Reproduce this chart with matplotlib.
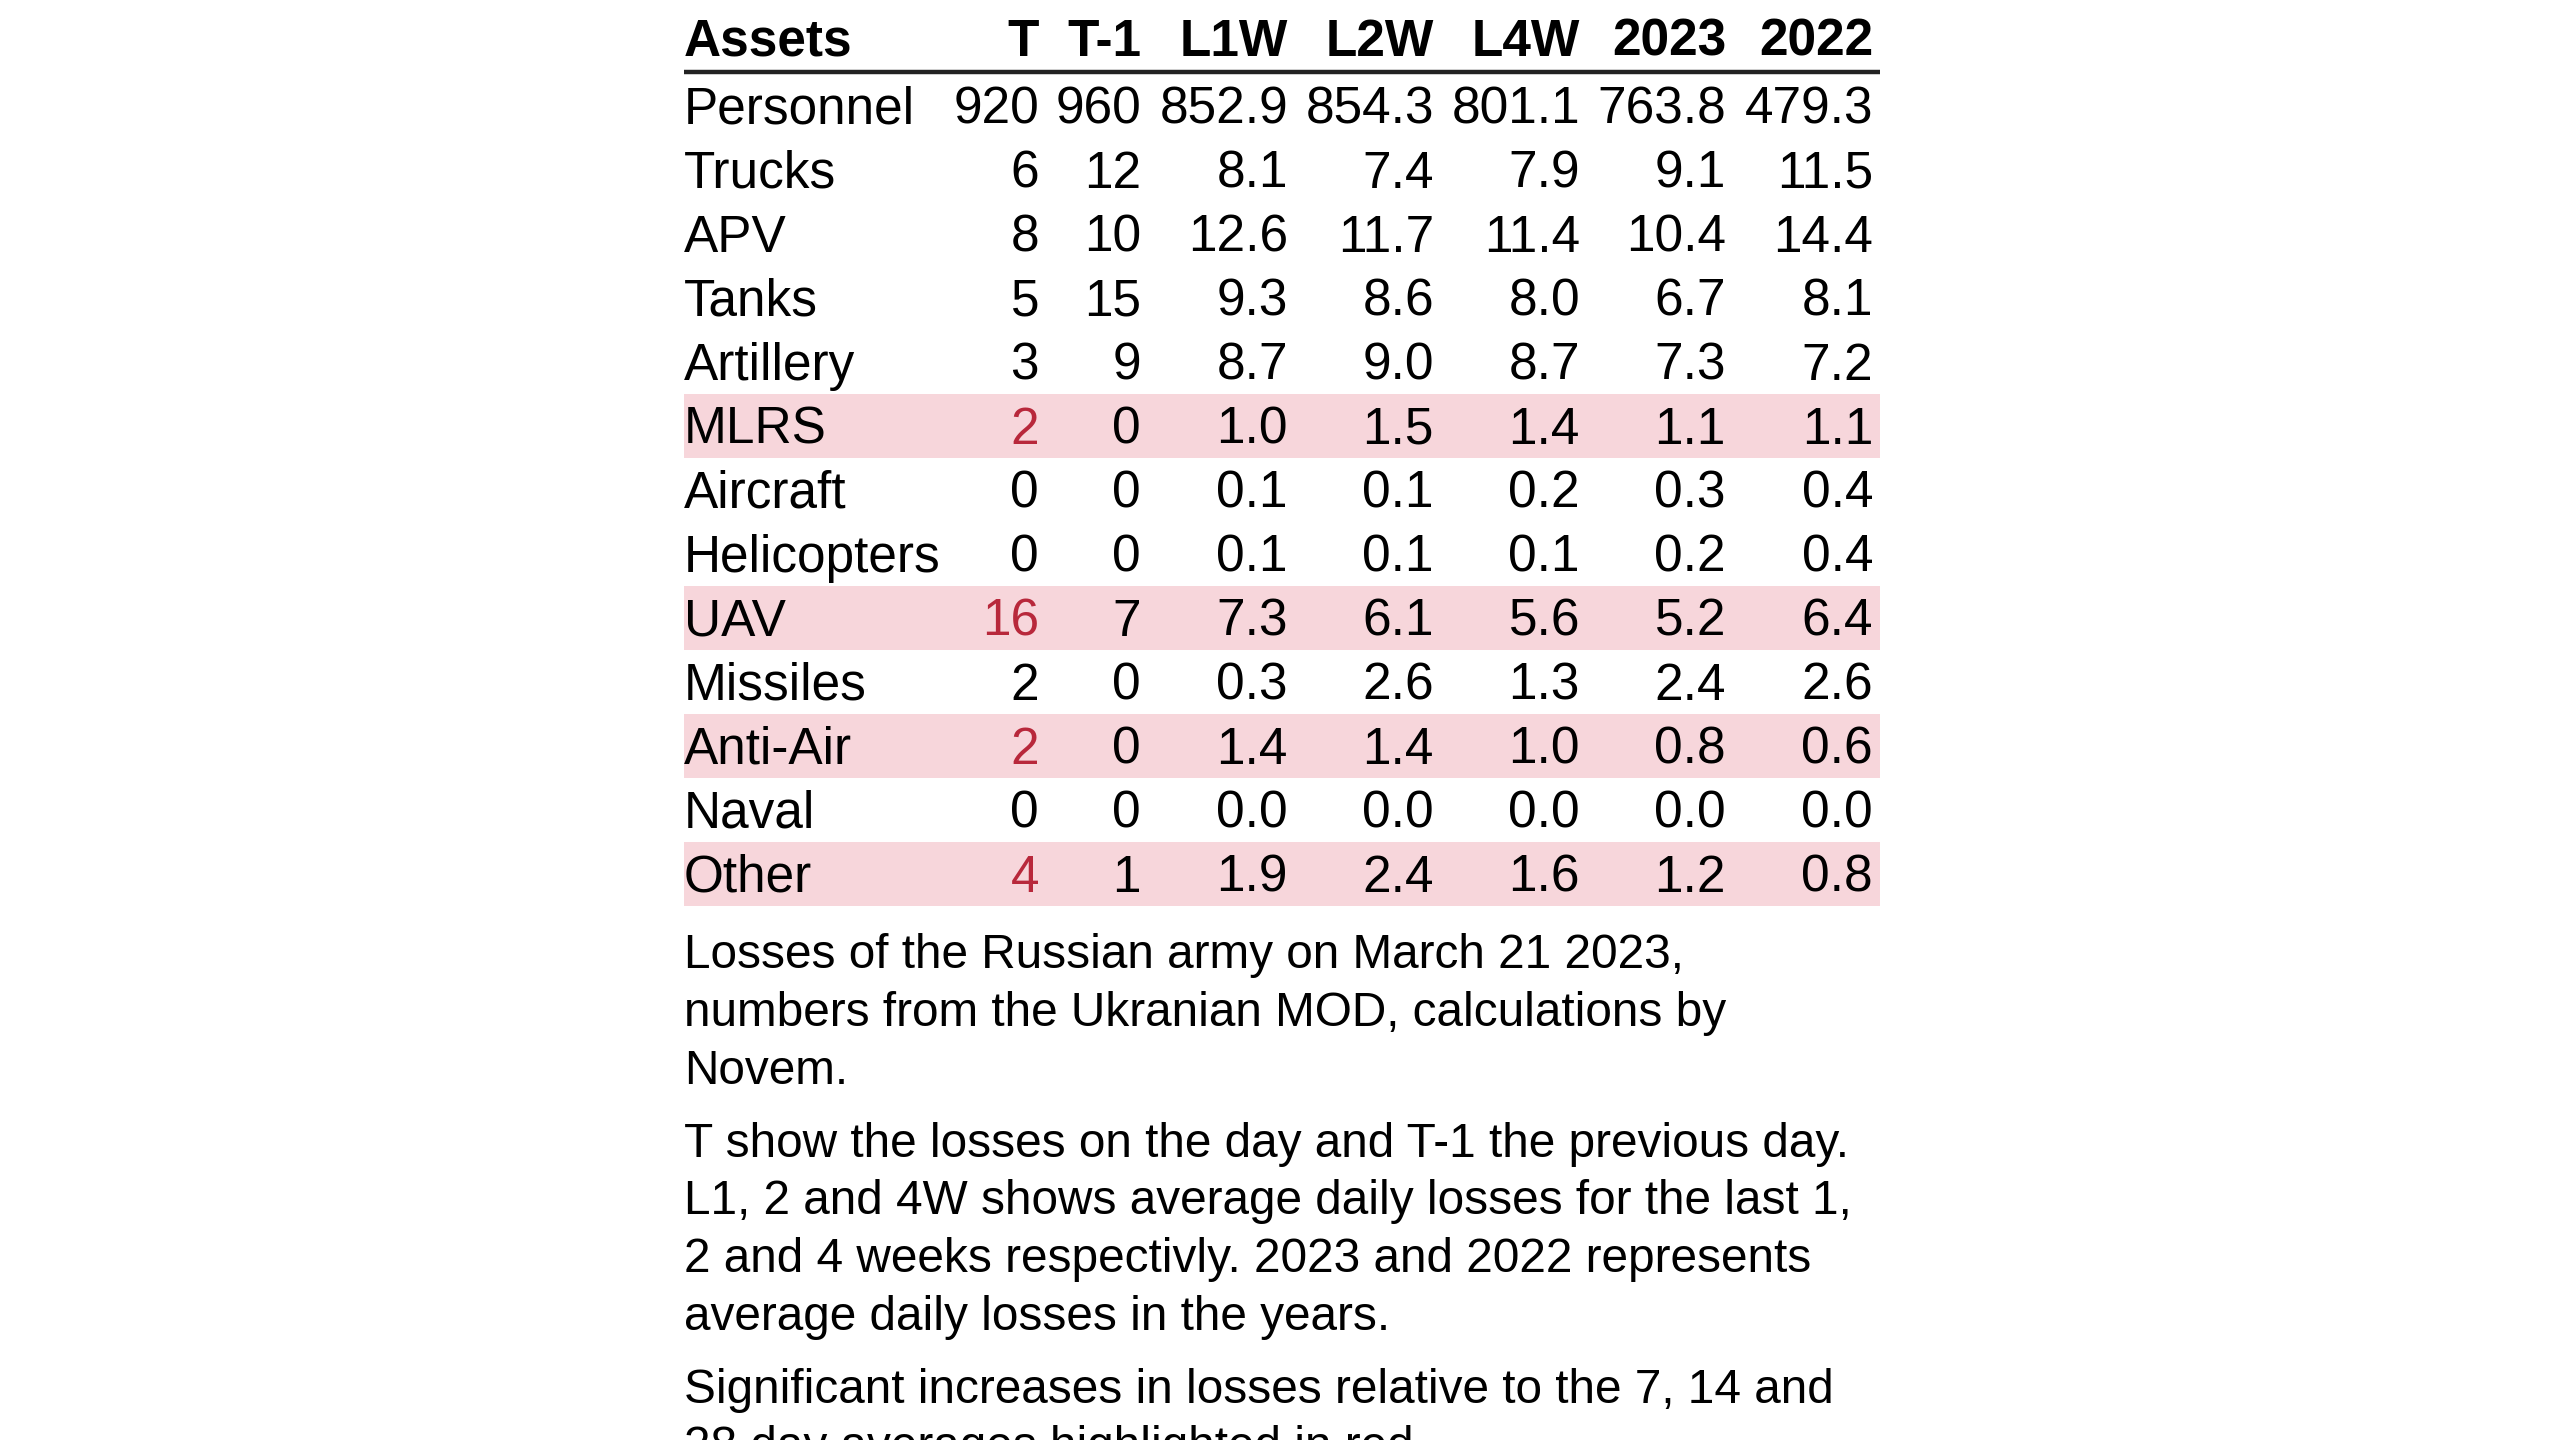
import matplotlib
matplotlib.use("Agg")
import matplotlib.pyplot as plt
from matplotlib.patches import Rectangle

# ---- data ----
columns = ["T", "T-1", "L1W", "L2W", "L4W", "2023", "2022"]
assets = ["Personnel", "Trucks", "APV", "Tanks", "Artillery", "MLRS", "Aircraft",
          "Helicopters", "UAV", "Missiles", "Anti-Air", "Naval", "Other"]
t_vals = [920, 6, 8, 5, 3, 2, 0, 0, 16, 2, 2, 0, 4]
t1_vals = [960, 12, 10, 15, 9, 0, 0, 0, 7, 0, 0, 0, 1]
l1w_vals = [852.9, 8.1, 12.6, 9.3, 8.7, 1.0, 0.1, 0.1, 7.3, 0.3, 1.4, 0.0, 1.9]
l2w_vals = [854.3, 7.4, 11.7, 8.6, 9.0, 1.5, 0.1, 0.1, 6.1, 2.6, 1.4, 0.0, 2.4]
l4w_vals = [801.1, 7.9, 11.4, 8.0, 8.7, 1.4, 0.2, 0.1, 5.6, 1.3, 1.0, 0.0, 1.6]
y2023_vals = [763.8, 9.1, 10.4, 6.7, 7.3, 1.1, 0.3, 0.2, 5.2, 2.4, 0.8, 0.0, 1.2]
y2022_vals = [479.3, 11.5, 14.4, 8.1, 7.2, 1.1, 0.4, 0.4, 6.4, 2.6, 0.6, 0.0, 0.8]
highlighted = ["MLRS", "UAV", "Anti-Air", "Other"]

caption_paragraphs = [
    ["Losses of the Russian army on March 21 2023,",
     "numbers from the Ukranian MOD, calculations by",
     "Novem."],
    ["T show the losses on the day and T-1 the previous day.",
     "L1, 2 and 4W shows average daily losses for the last 1,",
     "2 and 4 weeks respectivly. 2023 and 2022 represents",
     "average daily losses in the years."],
    ["Significant increases in losses relative to the 7, 14 and",
     "28 day averages highlighted in red."],
]

# ---- layout ----
W, H = 2560, 1440
fig = plt.figure(figsize=(25.6, 14.4), dpi=100)
ax = fig.add_axes([0, 0, 1, 1])
ax.set_xlim(0, W)
ax.set_ylim(H, 0)
ax.axis("off")

FONT = "Liberation Sans"
FS = 37
CAP_FS = 34.4
RED = "#b8283b"
PINK = "#f7d6db"

left = 684
right = 1880
col_right = [1039, 1141, 1288, 1434, 1580, 1726, 1873]
header_y = 38
rule_y = 72
row0 = 106
row_h = 64.0
text_dy = 4.5

data_cols = [t_vals, t1_vals, l1w_vals, l2w_vals, l4w_vals, y2023_vals, y2022_vals]
int_cols = {0, 1}

ax.text(left, header_y + text_dy, "Assets", fontsize=FS, fontweight="bold",
        family=FONT, ha="left", va="center")
for c, x in zip(columns, col_right):
    ax.text(x, header_y + text_dy, c, fontsize=FS, fontweight="bold", family=FONT,
            ha="right", va="center")
ax.plot([left, right], [rule_y, rule_y], color="#222222", lw=3.2, solid_capstyle="butt")

for i, name in enumerate(assets):
    y = row0 + i * row_h
    hl = name in highlighted
    if hl:
        ax.add_patch(Rectangle((left, y - row_h / 2), right - left, row_h,
                               facecolor=PINK, edgecolor="none", zorder=0))
    ax.text(left, y + text_dy, name, fontsize=FS, family=FONT, ha="left",
            va="center", color="black")
    for j, (vals, x) in enumerate(zip(data_cols, col_right)):
        v = vals[i]
        s = f"{int(v)}" if j in int_cols else f"{v:.1f}"
        color = RED if (hl and j == 0) else "black"
        ax.text(x, y + text_dy, s, fontsize=FS, family=FONT, ha="right",
                va="center", color=color)

cap_y = 956
line_h = 57.5
para_gap = 16
y = cap_y
for para in caption_paragraphs:
    for line in para:
        ax.text(left, y, line, fontsize=CAP_FS, family=FONT, ha="left",
                va="center")
        y += line_h
    y += para_gap

fig.savefig("out.png", dpi=100, facecolor="white")
